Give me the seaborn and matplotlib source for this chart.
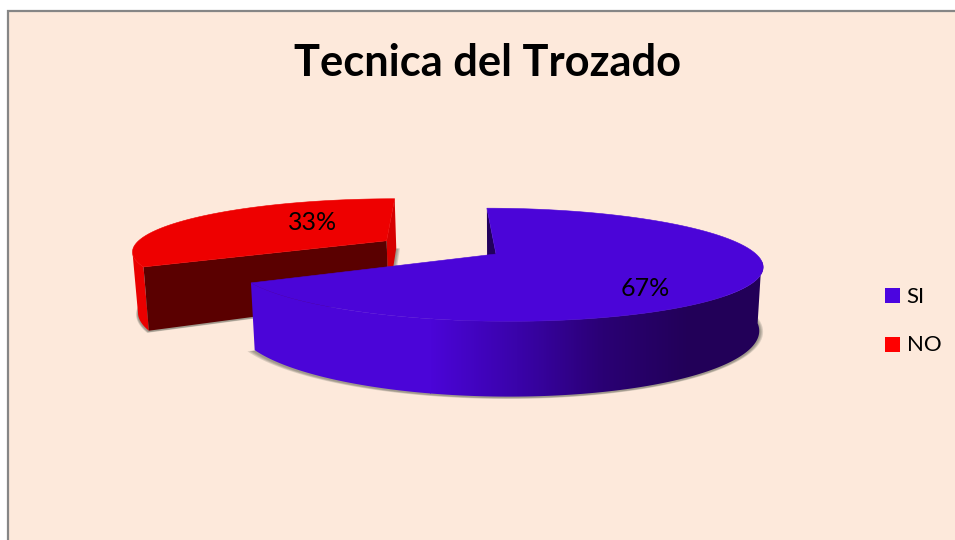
#!/usr/bin/env python3

import numpy as np
import seaborn as sns
from matplotlib import pyplot as plt
from matplotlib.colors import ListedColormap
from matplotlib.lines import Line2D
from matplotlib.patches import Polygon, Rectangle

title = 'Tecnica del Trozado'
categories = ['SI', 'NO']
values = [67, 33]
top_colors = ['#4b05d8', '#ee0000']
legend_colors = ['#4b05e0', '#ff0000']

# fake 3d view, everything in screen pixels
VANISH_X = 439
HORIZON_Y = -33
PLANE_H = 287
THICK = 61
RADIUS = 260
TILT = 0.19
EXPLODE = 0.5
BLUE_CENTER_X = 57


def project(x, y, z=0.0):
    s = 1 / (1 + TILT * y)
    sx = VANISH_X + x * s
    sy = HORIZON_Y + (PLANE_H + z) * s
    if z > 0:
        # lower face is a bit narrower on screen
        sx = 500 + (sx - 500) * 0.985
    return sx, sy


def rim(cx, cy, a0, a1, z=0.0, n=120):
    ang = np.radians(np.linspace(a0, a1, n))
    return project(cx + RADIUS * np.sin(ang), cy + np.cos(ang), z)


def slice_outline(cx, cy, a0, a1, z=0.0):
    xs, ys = rim(cx, cy, a0, a1, z)
    ax_, ay_ = project(cx, cy, z)
    return np.column_stack([np.r_[ax_, xs], np.r_[ay_, ys]])


def wall_outline(cx, cy, a0, a1):
    x_top, y_top = rim(cx, cy, a0, a1)
    x_bot, y_bot = rim(cx, cy, a0, a1, THICK)
    return np.column_stack([np.r_[x_top, x_bot[::-1]], np.r_[y_top, y_bot[::-1]]])


def cut_face(cx, cy, angle):
    ang = np.radians(angle)
    ex, ey = cx + RADIUS * np.sin(ang), cy + np.cos(ang)
    return np.array([project(cx, cy), project(ex, ey),
                     project(ex, ey, THICK), project(cx, cy, THICK)])


def draw_shadow(ax, cx, cy, a0, a1):
    outline = slice_outline(cx, cy, a0, a1, THICK)
    mid = outline.mean(axis=0)
    for grow in [1.022, 1.016, 1.011, 1.006]:
        pts = mid + (outline - mid) * grow + np.array([0.0, 1.0])
        ax.add_patch(Polygon(pts, closed=True, fc='#6b6b60', ec='none',
                             alpha=0.22, zorder=2))


def main():
    sns.set_theme(style='white')
    plt.rcParams['font.family'] = ['Lato', 'DejaVu Sans']

    fig = plt.figure(figsize=(9.55, 5.4), dpi=100, facecolor='white')
    ax = fig.add_axes([0, 0, 1, 1])
    ax.axis('off')

    ax.add_patch(Rectangle((8, 11), 960, 540, fc='#fde9db', ec='#868686', lw=1.6, zorder=1))
    ax.text(488, 63.5, title, fontsize=31.2, fontweight='bold', color='black',
            ha='center', va='center', zorder=6)

    blue_sweep = 360 * values[0] / sum(values)
    red_mid = np.radians((blue_sweep + 360) / 2)
    red_x = BLUE_CENTER_X + EXPLODE * RADIUS * np.sin(red_mid)
    red_y = EXPLODE * np.cos(red_mid)

    # red slice goes behind the blue one
    draw_shadow(ax, red_x, red_y, blue_sweep, 360)
    ax.add_patch(Polygon(wall_outline(red_x, red_y, blue_sweep, 257), closed=True,
                         fc='#ea0000', ec='none', zorder=3))
    ax.add_patch(Polygon(cut_face(red_x, red_y, 360), closed=True, fc='#d60000', ec='none', zorder=3))
    ax.add_patch(Polygon(cut_face(red_x, red_y, blue_sweep), closed=True, fc='#5a0000', ec='none', zorder=3))
    ax.add_patch(Polygon(slice_outline(red_x, red_y, blue_sweep, 360), closed=True,
                         fc=top_colors[1], ec=top_colors[1], lw=0.4, zorder=3))

    # blue slice, wall darkens from left to right
    draw_shadow(ax, BLUE_CENTER_X, 0, 0, blue_sweep)
    ax.add_patch(Polygon(cut_face(BLUE_CENTER_X, 0, 0), closed=True, fc='#22005c', ec='none', zorder=3))
    shades = ListedColormap(sns.blend_palette(['#4b05d8', '#3a03aa', '#2a0074', '#220058'], 256))
    wall = Polygon(wall_outline(BLUE_CENTER_X, 0, 97, blue_sweep), closed=True,
                   fc='none', ec='none', zorder=3)
    ax.add_patch(wall)
    img = ax.imshow(np.linspace(0, 1, 256).reshape(1, -1), cmap=shades, aspect='auto',
                    extent=(430, 690, 420, 240), zorder=3)
    img.set_clip_path(wall)
    # flat ends of the gradient
    ax.add_patch(Rectangle((200, 240), 230.5, 180, fc=shades(0.0), ec='none', zorder=3,
                           clip_path=wall))
    ax.add_patch(Rectangle((689.5, 240), 100, 180, fc=shades(1.0), ec='none', zorder=3,
                           clip_path=wall))
    ax.add_patch(Polygon(slice_outline(BLUE_CENTER_X, 0, 0, blue_sweep), closed=True,
                         fc=top_colors[0], ec=top_colors[0], lw=0.4, zorder=4))

    ax.text(645, 289, f'{values[0]}%', fontsize=18, color='black', ha='center', va='center', zorder=6)
    ax.text(313, 223, f'{values[1]}%', fontsize=18, color='black', ha='center', va='center', zorder=6)

    handles = [Line2D([], [], ls='none', marker='s', ms=10.8, mfc=c, mec=c, mew=0)
               for c in legend_colors]
    ax.legend(handles, categories, loc='center left', bbox_to_anchor=(881 / 955, 1 - 321 / 540),
              frameon=False, fontsize=16, labelspacing=1.3, handlelength=1.0,
              handletextpad=0.15, borderpad=0, borderaxespad=0, labelcolor='black')

    ax.set_xlim(0, 955)
    ax.set_ylim(540, 0)
    fig.savefig('out.png', dpi=100, facecolor='white')


if __name__ == "__main__":
    main()
